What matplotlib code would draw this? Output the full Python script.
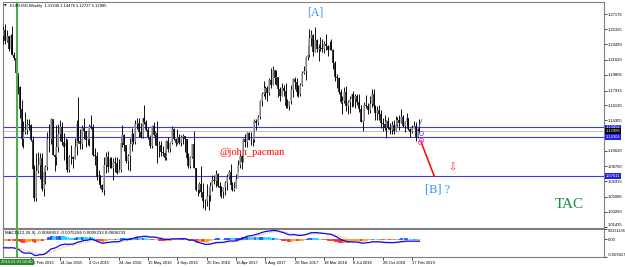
import matplotlib
matplotlib.use("Agg")
import matplotlib.pyplot as plt
import matplotlib.transforms as mtransforms
import numpy as np
import pandas as pd

# EURUSD weekly bars, one per week starting 2014-11-09, last one 2019-03-17
week_start = pd.Timestamp("2014-11-09")
first_open = 1.2450

closes = [
    # 2014
    1.2525, 1.2390, 1.2450, 1.2290, 1.2465, 1.2225, 1.2180, 1.2000,
    # 2015
    1.1840, 1.1565, 1.1205, 1.1290, 1.1315, 1.1385, 1.1380, 1.1195, 1.0845, 1.0495,
    1.0820, 1.0890, 1.0970, 1.0600, 1.0805, 1.0870, 1.1200, 1.1200, 1.1450, 1.1015,
    1.0985, 1.1110, 1.1265, 1.1350, 1.1165, 1.1105, 1.1160, 1.0830, 1.0985, 1.0985,
    1.0965, 1.1105, 1.1385, 1.1185, 1.1150, 1.1340, 1.1300, 1.1195, 1.1210, 1.1360,
    1.1350, 1.1015, 1.1005, 1.0740, 1.0770, 1.0645, 1.0590, 1.0885, 1.0990, 1.0865,
    1.0965, 1.0855,
    # 2016
    1.0925, 1.0915, 1.0795, 1.0830, 1.1155, 1.1255, 1.1130, 1.0935, 1.1005, 1.1150,
    1.1270, 1.1165, 1.1390, 1.1395, 1.1285, 1.1225, 1.1455, 1.1405, 1.1310, 1.1225,
    1.1115, 1.1365, 1.1250, 1.1275, 1.1115, 1.1135, 1.1050, 1.1040, 1.0975, 1.1175,
    1.1085, 1.1160, 1.1325, 1.1200, 1.1155, 1.1230, 1.1155, 1.1225, 1.1240, 1.1200,
    1.0970, 1.0880, 1.0985, 1.1140, 1.0850, 1.0590, 1.0590, 1.0665, 1.0560, 1.0450,
    1.0455, 1.0520,
    # 2017
    1.0530, 1.0640, 1.0705, 1.0695, 1.0785, 1.0640, 1.0615, 1.0560, 1.0620, 1.0670,
    1.0740, 1.0800, 1.0650, 1.0590, 1.0615, 1.0725, 1.0895, 1.0995, 1.0930, 1.1205,
    1.1165, 1.1280, 1.1195, 1.1195, 1.1195, 1.1425, 1.1400, 1.1470, 1.1665, 1.1750,
    1.1775, 1.1820, 1.1760, 1.1925, 1.1860, 1.2035, 1.1945, 1.1950, 1.1815, 1.1730,
    1.1825, 1.1785, 1.1605, 1.1610, 1.1665, 1.1795, 1.1935, 1.1895, 1.1770, 1.1745,
    1.1860, 1.2005, 1.2030,
    # 2018
    1.2200, 1.2220, 1.2425, 1.2460, 1.2255, 1.2405, 1.2295, 1.2315, 1.2305, 1.2290,
    1.2355, 1.2325, 1.2280, 1.2330, 1.2285, 1.2130, 1.1960, 1.1940, 1.1770, 1.1650,
    1.1660, 1.1770, 1.1610, 1.1655, 1.1685, 1.1745, 1.1685, 1.1720, 1.1655, 1.1570,
    1.1410, 1.1440, 1.1620, 1.1600, 1.1550, 1.1625, 1.1745, 1.1605, 1.1525, 1.1560,
    1.1510, 1.1400, 1.1390, 1.1335, 1.1420, 1.1340, 1.1315, 1.1375, 1.1305, 1.1370,
    1.1440, 1.1395,
    # 2019
    1.1470, 1.1365, 1.1410, 1.1455, 1.1325, 1.1295, 1.1335, 1.1365, 1.1235, 1.1325,
    1.12985,
]

highs = [
    1.2578, 1.2601, 1.2530, 1.2456, 1.2480, 1.2570, 1.2260, 1.2220,
    1.1970, 1.1845, 1.1680, 1.1425, 1.1535, 1.1450, 1.1450, 1.1390, 1.1245, 1.0885,
    1.1040, 1.1050, 1.1030, 1.1035, 1.0850, 1.0890, 1.1290, 1.1390, 1.1465, 1.1440,
    1.1020, 1.1380, 1.1385, 1.1435, 1.1410, 1.1280, 1.1215, 1.1200, 1.1010, 1.1130,
    1.1005, 1.1215, 1.1440, 1.1715, 1.1330, 1.1370, 1.1460, 1.1300, 1.1320, 1.1390,
    1.1495, 1.1390, 1.1095, 1.1045, 1.0830, 1.0765, 1.0665, 1.0985, 1.1045, 1.1060,
    1.0990, 1.0990,
    1.0970, 1.0990, 1.0990, 1.0960, 1.1245, 1.1375, 1.1260, 1.1125, 1.1020, 1.1215,
    1.1340, 1.1275, 1.1440, 1.1465, 1.1465, 1.1400, 1.1465, 1.1615, 1.1430, 1.1350,
    1.1250, 1.1375, 1.1415, 1.1300, 1.1425, 1.1185, 1.1185, 1.1120, 1.1070, 1.1190,
    1.1235, 1.1170, 1.1365, 1.1340, 1.1200, 1.1330, 1.1270, 1.1255, 1.1270, 1.1240,
    1.1200, 1.1040, 1.1000, 1.1145, 1.1300, 1.0850, 1.0665, 1.0685, 1.0875, 1.0670,
    1.0475, 1.0655,
    1.0620, 1.0685, 1.0775, 1.0775, 1.0830, 1.0795, 1.0680, 1.0640, 1.0630, 1.0700,
    1.0780, 1.0825, 1.0905, 1.0690, 1.0680, 1.0780, 1.0950, 1.1020, 1.1020, 1.1215,
    1.1270, 1.1285, 1.1295, 1.1295, 1.1225, 1.1445, 1.1445, 1.1490, 1.1680, 1.1775,
    1.1910, 1.1845, 1.1850, 1.1940, 1.2070, 1.2090, 1.2030, 1.2035, 1.1940, 1.1835,
    1.1880, 1.1860, 1.1880, 1.1690, 1.1670, 1.1860, 1.1945, 1.1960, 1.1940, 1.1860,
    1.1885, 1.2025, 1.2090,
    1.2215, 1.2325, 1.2535, 1.2520, 1.2475, 1.2555, 1.2410, 1.2355, 1.2445, 1.2410,
    1.2390, 1.2475, 1.2345, 1.2395, 1.2415, 1.2290, 1.2155, 1.1995, 1.1955, 1.1815,
    1.1725, 1.1840, 1.1850, 1.1675, 1.1720, 1.1755, 1.1790, 1.1745, 1.1750, 1.1745,
    1.1620, 1.1445, 1.1650, 1.1735, 1.1640, 1.1720, 1.1815, 1.1815, 1.1620, 1.1610,
    1.1620, 1.1550, 1.1455, 1.1500, 1.1440, 1.1470, 1.1400, 1.1420, 1.1440, 1.1485,
    1.1470, 1.1500,
    1.1570, 1.1500, 1.1420, 1.1515, 1.1465, 1.1340, 1.1370, 1.1420, 1.1405, 1.1345,
    1.14476,
]

lows = [
    1.2358, 1.2358, 1.2375, 1.2270, 1.2245, 1.2220, 1.2165, 1.2000,
    1.1755, 1.1460, 1.1115, 1.1100, 1.1270, 1.1270, 1.1315, 1.1175, 1.0840, 1.0460,
    1.0460, 1.0795, 1.0715, 1.0570, 1.0520, 1.0660, 1.0830, 1.1050, 1.1140, 1.1010,
    1.0820, 1.0890, 1.1050, 1.1185, 1.1130, 1.0955, 1.0915, 1.0810, 1.0810, 1.0900,
    1.0850, 1.0960, 1.1015, 1.1155, 1.1085, 1.1090, 1.1210, 1.1105, 1.1130, 1.1120,
    1.1330, 1.0995, 1.0895, 1.0705, 1.0675, 1.0615, 1.0560, 1.0525, 1.0795, 1.0805,
    1.0855, 1.0850,
    1.0710, 1.0800, 1.0780, 1.0805, 1.0810, 1.1105, 1.1065, 1.0915, 1.0825, 1.0820,
    1.1060, 1.1145, 1.1145, 1.1325, 1.1235, 1.1215, 1.1215, 1.1385, 1.1300, 1.1200,
    1.1100, 1.1095, 1.1240, 1.1130, 1.0910, 1.0985, 1.1000, 1.1000, 1.0950, 1.0950,
    1.1045, 1.1045, 1.1150, 1.1190, 1.1125, 1.1150, 1.1150, 1.1120, 1.1150, 1.1050,
    1.0960, 1.0860, 1.0850, 1.0975, 1.0850, 1.0570, 1.0520, 1.0550, 1.0505, 1.0365,
    1.0350, 1.0390,
    1.0340, 1.0455, 1.0580, 1.0660, 1.0620, 1.0620, 1.0520, 1.0495, 1.0495, 1.0525,
    1.0590, 1.0715, 1.0650, 1.0580, 1.0570, 1.0610, 1.0820, 1.0850, 1.0840, 1.0925,
    1.1110, 1.1110, 1.1190, 1.1130, 1.1120, 1.1165, 1.1310, 1.1370, 1.1450, 1.1610,
    1.1730, 1.1690, 1.1660, 1.1740, 1.1825, 1.1860, 1.1870, 1.1860, 1.1715, 1.1670,
    1.1730, 1.1730, 1.1575, 1.1575, 1.1555, 1.1630, 1.1715, 1.1815, 1.1730, 1.1715,
    1.1720, 1.1850, 1.1990,
    1.1915, 1.2165, 1.2195, 1.2335, 1.2205, 1.2255, 1.2260, 1.2155, 1.2275, 1.2255,
    1.2240, 1.2285, 1.2215, 1.2285, 1.2280, 1.2055, 1.1910, 1.1820, 1.1750, 1.1645,
    1.1510, 1.1645, 1.1540, 1.1510, 1.1525, 1.1590, 1.1610, 1.1575, 1.1620, 1.1530,
    1.1405, 1.1300, 1.1440, 1.1580, 1.1510, 1.1525, 1.1595, 1.1570, 1.1430, 1.1430,
    1.1430, 1.1335, 1.1300, 1.1320, 1.1215, 1.1325, 1.1265, 1.1270, 1.1270, 1.1305,
    1.1365, 1.1310,
    1.1395, 1.1355, 1.1290, 1.1380, 1.1320, 1.1235, 1.1280, 1.1335, 1.1175, 1.1215,
    1.12727,
]

# 2014 weekly closes before the first visible bar (MACD warm-up only)
warmup_closes = [
    1.3590, 1.3665, 1.3540, 1.3680, 1.3485, 1.3635, 1.3695, 1.3740, 1.3805, 1.3875,
    1.3910, 1.3790, 1.3750, 1.3705, 1.3885, 1.3810, 1.3830, 1.3870, 1.3755, 1.3695,
    1.3630, 1.3635, 1.3645, 1.3540, 1.3605, 1.3645, 1.3595, 1.3605, 1.3525, 1.3430,
    1.3430, 1.3415, 1.3400, 1.3240, 1.3130, 1.2950, 1.2960, 1.2830, 1.2685, 1.2520,
    1.2630, 1.2760, 1.2670, 1.2525, 1.2450,
]

# horizontal levels drawn on the chart
level_prices = [1.13454, 1.12301, 1.07611]
level_labels = ["1.13454", "1.12301", "1.07611"]
last_price = 1.12985

price_ticks = [1.27176, 1.25325, 1.23490, 1.21620, 1.19805, 1.17915, 1.16130,
               1.14305, 1.10620, 1.08750, 1.06915, 1.05086, 1.03250, 1.01435]
macd_ticks = [0.0331136, 0.0, -0.059417]
macd_tick_labels = ["0.0331136", "0.00", "-0.059417"]

date_ticks = ["2015-02-22", "2015-06-14", "2015-10-04", "2016-01-24", "2016-05-15",
              "2016-09-04", "2016-12-25", "2017-04-16", "2017-08-06", "2017-11-26",
              "2018-03-18", "2018-07-08", "2018-10-28", "2019-02-17"]
date_labels = ["22 Feb 2015", "14 Jun 2015", "4 Oct 2015", "24 Jan 2016", "15 May 2016",
               "4 Sep 2016", "25 Dec 2016", "16 Apr 2017", "6 Aug 2017", "26 Nov 2017",
               "18 Mar 2018", "8 Jul 2018", "28 Oct 2018", "17 Feb 2019"]
vline_date = "2015-01-01"

# projected leg after the last bar (week offset from first bar, price)
proj_x = [227.9, 235.0]
proj_y = [1.1169, 1.0761]
small_wave_x = [225.7, 228.4]
small_wave_y = [1.1298, 1.1443]


def week_pos(date_str):
    return (pd.Timestamp(date_str) - week_start).days / 7.0


def main():
    plt.rcParams["font.family"] = ["Liberation Sans", "DejaVu Sans"]

    c = np.array(closes)
    h = np.array(highs)
    l = np.array(lows)
    o = np.r_[first_open, c[:-1]]
    x = np.arange(len(c))
    up = c >= o

    fig = plt.figure(figsize=(6.25, 2.67), dpi=100)
    ax = fig.add_axes([3 / 625, 39 / 267, 601 / 625, 226 / 267])
    axm = fig.add_axes([3 / 625, 10 / 267, 601 / 625, 28 / 267])

    for a in (ax, axm):
        for s in a.spines.values():
            s.set_color("#808080")
            s.set_linewidth(0.8)
        a.set_xlim(-0.18, 327.7)

    # bars
    ax.vlines(x, l, h, colors="#111111", linewidth=0.7, zorder=3)
    ax.vlines(x[up], o[up], c[up], colors="#a0a0a0", linewidth=1.1, zorder=4)
    ax.vlines(x[~up], o[~up], c[~up], colors="#000000", linewidth=1.1, zorder=4)

    ax.set_ylim(1.0128, 1.2863)
    ax.set_xticks([])
    ax.yaxis.tick_right()
    ax.set_yticks(price_ticks)
    ax.set_yticklabels([f"{v:.5f}" for v in price_ticks])
    ax.tick_params(axis="y", length=2, width=0.5, labelsize=3, pad=1)
    ax.get_yticklabels()[-1].set_va("bottom")

    for p in level_prices:
        ax.axhline(p, color="#3a3af5", linewidth=0.8, zorder=2)
    ax.axhline(last_price, color="#b8b8b8", linewidth=0.6, zorder=2)

    trans = mtransforms.blended_transform_factory(ax.transAxes, ax.transData)
    for p, lab in zip(level_prices, level_labels):
        ax.text(1.003, p, lab, transform=trans, fontsize=3, color="white",
                va="center", ha="left", zorder=6, clip_on=False,
                bbox=dict(boxstyle="square,pad=0.2", fc="#2020e8", ec="none"))
    ax.text(1.003, last_price, f"{last_price:.5f}", transform=trans, fontsize=3,
            color="white", va="center", ha="left", zorder=7, clip_on=False,
            bbox=dict(boxstyle="square,pad=0.2", fc="black", ec="none"))

    # vertical marker at 2015.01.01
    vx = week_pos(vline_date)
    ax.axvline(vx, color="#4cb04c", linewidth=1.5, zorder=5)
    axm.axvline(vx, color="#4cb04c", linewidth=1.5, zorder=5)

    # wave projection
    ax.plot(proj_x, proj_y, color="#ff0000", linewidth=1.1, zorder=6)
    ax.plot(small_wave_x, small_wave_y, color="#7a6cff", linewidth=0.6, zorder=6)
    ax.plot([227.6, 227.2], [1.1195, 1.1165], "o", ms=3, mfc="none",
            mec="#ff3cc8", mew=0.6, zorder=7)
    ax.plot([227.9], [1.1275], "o", ms=3, mfc="none", mec="#7a5cff", mew=0.6, zorder=7)

    ax.text(170.0, 1.2730, "[A]", color="#2f8fff", fontsize=8.5,
            family="Liberation Serif", ha="center", va="center")
    ax.text(117.7, 1.1036, "@john_pacman", color="#ff0000", fontsize=7.5,
            family="Liberation Serif", ha="left", va="center")
    ax.text(230.0, 1.0588, "[B] ?", color="#2f8fff", fontsize=9,
            family="Liberation Serif", ha="left", va="center")
    ax.text(301.0, 1.0407, "TAC", color="#1f8a45", fontsize=11,
            family="Liberation Serif", ha="left", va="center")
    ax.text(244.8, 1.0867, "\u21e9", color="#ff2020", fontsize=7,
            family="DejaVu Sans", ha="center", va="center")

    fig.text(4 / 625, 1 - 6 / 267, "\u25bc", fontsize=2.5, va="center", ha="left",
             family="DejaVu Sans")
    fig.text(10 / 625, 1 - 6 / 267,
             "EURUSD,Weekly  1.13240 1.14476 1.12727 1.12985",
             fontsize=3, va="center", ha="left")

    # MACD(12,26,9)
    allc = pd.Series(warmup_closes + closes)
    ema12 = allc.ewm(span=12, adjust=False).mean()
    ema26 = allc.ewm(span=26, adjust=False).mean()
    macd_full = ema12 - ema26
    signal_full = macd_full.ewm(span=9, adjust=False).mean()
    n0 = len(warmup_closes)
    macd = macd_full.to_numpy()[n0:]
    signal = signal_full.to_numpy()[n0:]
    hist = macd - signal
    dh = np.diff(hist, prepend=hist[0])
    hcol = np.where(hist >= 0,
                    np.where(dh >= 0, "#2a4dff", "#22d8ff"),
                    np.where(dh < 0, "#ff2a2a", "#ffa020"))
    axm.bar(x, hist, width=0.85, color=hcol, edgecolor=hcol, linewidth=0.6, zorder=2)
    axm.plot(x, signal, color="#ffa050", linewidth=0.8, linestyle=(0, (1, 1)), zorder=3)
    axm.plot(x, macd, color="#0a0aee", linewidth=0.9, zorder=4)

    axm.set_ylim(-0.059417, 0.0331136)
    axm.yaxis.tick_right()
    axm.set_yticks(macd_ticks)
    axm.set_yticklabels(macd_tick_labels)
    axm.tick_params(axis="y", length=2, width=0.5, labelsize=3, pad=1)
    ylabs = axm.get_yticklabels()
    ylabs[0].set_va("top")
    ylabs[0].set_fontsize(2.7)
    ylabs[-1].set_va("bottom")
    axm.set_xticks([week_pos(d) for d in date_ticks])
    axm.set_xticklabels(date_labels)
    axm.tick_params(axis="x", length=2, width=0.5, labelsize=3, pad=0.8)
    for lab in axm.get_xticklabels():
        lab.set_ha("left")

    axm.text(0.003, 0.86, "MACD(12,26,9) -0.0068952 -0.0075186 0.0006233 0.0006233",
             transform=axm.transAxes, fontsize=3.2, va="center", ha="left", zorder=6)

    btrans = mtransforms.blended_transform_factory(axm.transData, axm.transAxes)
    axm.text(vx, -0.17, "2015.01.01 00:00", transform=btrans, fontsize=3,
             color="white", ha="center", va="center", zorder=8, clip_on=False,
             bbox=dict(boxstyle="square,pad=0.3", fc="#2a8a2a", ec="none"))

    fig.savefig("out.png", dpi=100, facecolor="white")
    plt.close(fig)


if __name__ == "__main__":
    main()
